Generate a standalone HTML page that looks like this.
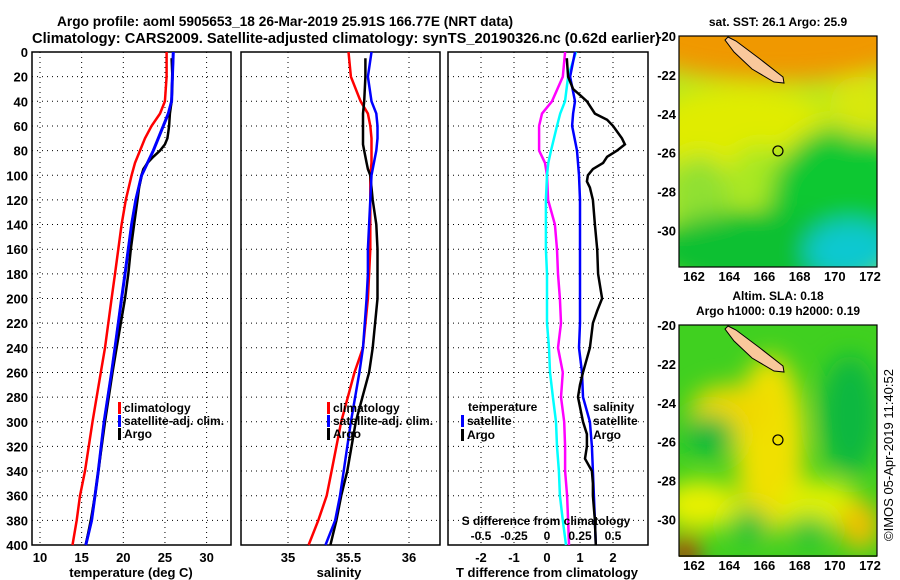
<!DOCTYPE html>
<html><head><meta charset="utf-8"><style>
body{margin:0;background:#fff;}
svg{display:block;font-family:"Liberation Sans",sans-serif;font-weight:bold;}
</style></head><body>
<svg id="chart" width="900" height="580" viewBox="0 0 900 580" xmlns="http://www.w3.org/2000/svg">
<defs>
<filter id="blur1" x="-50%" y="-50%" width="200%" height="200%"><feGaussianBlur stdDeviation="12"/></filter>
<clipPath id="clipTop"><rect x="679" y="36" width="198" height="231"/></clipPath>
<clipPath id="clipBot"><rect x="679" y="325" width="198" height="232"/></clipPath>
</defs>
<text x="57" y="26" font-size="14" textLength="456" lengthAdjust="spacingAndGlyphs">Argo profile: aoml 5905653_18 26-Mar-2019 25.91S 166.77E (NRT data)</text>
<text x="32" y="43" font-size="14.5" textLength="628" lengthAdjust="spacingAndGlyphs">Climatology: CARS2009. Satellite-adjusted climatology: synTS_20190326.nc (0.62d earlier)</text>
<g id="p1"></g>
<g id="p2"></g>
<g id="p3"></g>
<g id="m1"></g>
<g id="m2"></g>
<text transform="translate(893,455) rotate(-90)" font-size="13" font-weight="normal" text-anchor="middle">©IMOS 05-Apr-2019 11:40:52</text>
</svg>
<script>
const depths = [0,20,40,50,60,70,80,90,100,120,140,160,180,200,240,260,300,340,360,380,400];
const tempClim = [25.2,25.2,25.0,24.4,23.4,22.6,22.0,21.4,21.0,20.3,19.8,19.4,19.0,18.6,17.8,17.3,16.3,15.4,14.8,14.4,13.9];
const tempSat  = [26.0,25.9,25.8,25.4,24.8,24.2,23.6,22.9,22.2,21.5,21.0,20.6,20.2,19.8,19.0,18.6,17.7,17.0,16.6,16.2,15.5];
const argoDepths = [5,20,40,50,60,65,70,75,80,85,90,95,100,110,120,140,160,180,200,240,260,300,340,360,380,400];
const tempArgo = [25.8,25.9,25.8,25.6,25.5,25.4,25.3,25.0,24.4,23.6,22.9,22.4,22.2,21.9,21.7,21.3,20.9,20.6,20.2,19.2,18.7,17.8,17.0,16.6,16.1,15.5];
const salClim = [35.50,35.52,35.60,35.66,35.68,35.69,35.69,35.69,35.68,35.68,35.68,35.68,35.67,35.66,35.62,35.55,35.44,35.36,35.32,35.25,35.17];
const salSat  = [35.69,35.66,35.69,35.73,35.74,35.74,35.73,35.71,35.69,35.68,35.67,35.66,35.66,35.65,35.62,35.59,35.52,35.46,35.43,35.39,35.31];
const salArgo = [35.64,35.64,35.63,35.62,35.62,35.62,35.62,35.62,35.63,35.64,35.65,35.66,35.68,35.69,35.70,35.73,35.74,35.74,35.74,35.70,35.67,35.56,35.49,35.44,35.40,35.35];
const diffDepths = [0,20,40,50,60,80,90,100,120,140,160,180,200,220,240,260,280,300,320,340,360,380,400];
const dTSat = [0.85,0.70,0.85,0.79,0.76,0.91,0.94,0.97,1.0,1.0,1.0,1.0,1.0,1.0,0.97,1.06,1.09,1.30,1.36,1.39,1.42,1.45,1.48];
const dSArgo = [0.137,0.12,0.038,-0.038,-0.06,-0.06,-0.015,0,0.008,0.06,0.076,0.083,0.098,0.106,0.083,0.12,0.106,0.13,0.137,0.137,0.152,0.16,0.167];
const dSSat = [0.22,0.16,0.136,0.10,0.076,0.03,0.01,0,-0.008,-0.008,-0.008,0,0,0,0.015,0.023,0.045,0.068,0.076,0.09,0.098,0.12,0.144];
const dTArgoDepths = [5,20,30,35,40,50,55,60,70,75,80,85,90,95,100,105,110,120,140,160,180,200,210,220,240,260,270,280,300,310,320,330,340,350,360,380,400];
const dTArgo = [0.6,0.64,0.79,1.0,1.21,1.45,1.82,2.0,2.27,2.36,2.12,1.82,1.7,1.39,1.24,1.21,1.3,1.39,1.45,1.52,1.55,1.67,1.52,1.39,1.3,1.09,1.0,0.94,1.09,1.21,1.21,1.15,1.36,1.39,1.39,1.45,1.48];
const depthTicks = [0,20,40,60,80,100,120,140,160,180,200,220,240,260,280,300,320,340,360,380,400];
const tempTicks = [10,15,20,25,30];
const salTicks = [35,35.5,36];
const dTTicks = [-2,-1,0,1,2];
const dSTicks = [-0.5,-0.25,0,0.25,0.5];
const latTicks = [-20,-22,-24,-26,-28,-30];
const lonTicks = [162,164,166,168,170,172];
const argoLon = 166.77, argoLat = -25.91;

const NS="http://www.w3.org/2000/svg";
function mk(parent,tag,attrs,text){const e=document.createElementNS(NS,tag);for(const k in attrs)e.setAttribute(k,attrs[k]);if(text!==undefined)e.textContent=text;parent.appendChild(e);return e;}
const yD = d => 52 + d*(493/400);
const xT = t => 40 + (t-10)*8.33;
const xS = s => 288 + (s-35)*121;
const xDT = v => 547 + v*33;
const xDS = v => 547 + v*132;

function frame(g,x0,x1,xticks,xf,labels){
  for(const d of depthTicks){const l=mk(g,'line',{x1:x0,x2:x1,y1:yD(d),y2:yD(d),stroke:'#000','stroke-dasharray':'1,4'});
  
  }
  for(const t of xticks){const l=mk(g,'line',{x1:xf(t),x2:xf(t),y1:52,y2:545,stroke:'#000','stroke-dasharray':'1,4'});
  
  
  if(labels){const tx=mk(g,'text',{x:xf(t),y:562,'font-size':13,'text-anchor':'middle'},String(t));
  
  }}
  const r=mk(g,'rect',{x:x0,y:52,width:x1-x0,height:493,fill:'none',stroke:'#000','stroke-width':1.5});
  
  
}
function line(g,xs,ds,xf,color,w,name){
  const pts=xs.map((v,i)=>xf(v).toFixed(1)+','+yD(ds[i]).toFixed(1)).join(' ');
  const p=mk(g,'polyline',{points:pts,fill:'none',stroke:color,'stroke-width':w});
  
  
}
function legendItem(g,x,y,color,label){
  const r=mk(g,'rect',{x:x,y:y-10,width:3,height:12,fill:color});
  
  
  const t=mk(g,'text',{x:x+6,y:y,'font-size':12},label);
  
  
}
// panel 1
const p1=document.getElementById('p1');
frame(p1,32,231,tempTicks,xT,true);
for(const d of depthTicks){const t=mk(p1,'text',{x:28,y:yD(d)+5,'font-size':13,'text-anchor':'end'},String(d));

}
line(p1,tempClim,depths,xT,'#f00',2.5,'temp-climatology-line');
line(p1,tempSat,depths,xT,'#00f',3,'temp-satellite-line');
line(p1,tempArgo,argoDepths,xT,'#000',2.5,'temp-argo-line');
line(p1,tempSat,depths,xT,'#00f',2.5,'temp-satellite-line-top');
{const t=mk(p1,'text',{x:131,y:577,'font-size':13,'text-anchor':'middle'},'temperature (deg C)');}
legendItem(p1,118,412,'#f00','climatology');
legendItem(p1,118,425,'#00f','satellite-adj. clim.');
legendItem(p1,118,438,'#000','Argo');
// panel 2
const p2=document.getElementById('p2');
frame(p2,241,440,salTicks,xS,true);
line(p2,salClim,depths,xS,'#f00',2.5,'sal-climatology-line');
line(p2,salArgo,argoDepths,xS,'#000',2.5,'sal-argo-line');
line(p2,salSat,depths,xS,'#00f',2.5,'sal-satellite-line');
{const t=mk(p2,'text',{x:339,y:577,'font-size':13,'text-anchor':'middle'},'salinity');}
legendItem(p2,327,412,'#f00','climatology');
legendItem(p2,327,425,'#00f','satellite-adj. clim.');
legendItem(p2,327,438,'#000','Argo');
// panel 3
const p3=document.getElementById('p3');
frame(p3,448,648,dTTicks,xDT,true);
line(p3,dSArgo,diffDepths,xDS,'#f0f',2.5,'sal-diff-argo-line');
line(p3,dSSat,diffDepths,xDS,'#0ff',2.5,'sal-diff-satellite-line');
line(p3,dTSat,diffDepths,xDT,'#00f',2.5,'temp-diff-satellite-line');
line(p3,dTArgo,dTArgoDepths,xDT,'#000',2.5,'temp-diff-argo-line');
{const t=mk(p3,'text',{x:547,y:577,'font-size':13,'text-anchor':'middle'},'T difference from climatology');}
{const t=mk(p3,'text',{x:546,y:525,'font-size':12,'text-anchor':'middle'},'S difference from climatology');}
for(const s of dSTicks){const t=mk(p3,'text',{x:xDS(s),y:540,'font-size':12,'text-anchor':'middle'},String(s));

}
{const t=mk(p3,'text',{x:468,y:411,'font-size':12},'temperature');}
legendItem(p3,461,425,'#00f','satellite');
legendItem(p3,461,439,'#000','Argo');
{const t=mk(p3,'text',{x:593,y:411,'font-size':12},'salinity');}
{const t=mk(p3,'text',{x:593,y:425,'font-size':12},'satellite');}
{const t=mk(p3,'text',{x:593,y:439,'font-size':12},'Argo');}

// maps
function map(g,top,clip,title,blobs,base){
  const xL=l=>694+(l-162)*17.6, yL=l=>top+(-20-l)*19.45;
  const c=mk(g,'g',{'clip-path':'url(#'+clip+')'});
  mk(c,'rect',{x:679,y:top,width:198,height:232,fill:base});
  const bg=mk(c,'g',{filter:'url(#blur1)'});
  for(const b of blobs){mk(bg,'ellipse',{cx:b[0],cy:top+b[1],rx:b[2],ry:b[3],fill:b[4]});}
  const isl=mk(c,'polygon',{points:[[728,37],[736,41],[760,59],[783,77],[784,83],[774,82],[752,69],[734,52],[725,40]].map(p=>p[0]+','+(p[1]-36+top)).join(' '),fill:'#f9c89b',stroke:'#000','stroke-width':1});
  
  
  const circ=mk(g,'circle',{cx:xL(argoLon),cy:yL(argoLat),r:5,fill:'none',stroke:'#000','stroke-width':1.2});
  
  
  const fr=mk(g,'rect',{x:679,y:top,width:198,height:231,fill:'none',stroke:'#000','stroke-width':1.2});
  
  
  for(const l of latTicks){const t=mk(g,'text',{x:676,y:yL(l)+5,'font-size':13,'text-anchor':'end'},String(l));
  
  }
  for(const l of lonTicks){const t=mk(g,'text',{x:xL(l),y:top+245,'font-size':13,'text-anchor':'middle'},String(l));
  
  }
  title.forEach((s,i)=>{const t=mk(g,'text',{x:778,y:top-10+i*15-(title.length-1)*15,'font-size':12,'text-anchor':'middle'},s);
  
  });
}
map(document.getElementById('m1'),36,'clipTop',['sat. SST: 26.1 Argo: 25.9'],[
 [778,0,150,45,'#f09800'],[740,95,90,45,'#e0ec00'],[760,140,30,30,'#a8e820'],[700,160,30,40,'#90e030'],
 [840,170,70,80,'#10c830'],[760,215,110,40,'#10c030'],[850,215,45,30,'#10c8d0'],[860,70,30,30,'#d8e810']
],'#b8e820');
map(document.getElementById('m2'),325,'clipBot',['Altim. SLA: 0.18','Argo h1000: 0.19 h2000: 0.19'],[
 [770,120,35,90,'#f0e000'],[730,85,40,25,'#f0d800'],[700,180,40,25,'#e8f000'],[820,180,40,25,'#e0f000'],
 [860,200,20,25,'#f0c000'],[685,225,15,15,'#c01000'],[850,90,30,60,'#10b840'],[710,110,25,20,'#10b840'],
 [750,200,20,15,'#20c040'],[810,205,18,14,'#20c040']
],'#40d020');
</script>
</body></html>
